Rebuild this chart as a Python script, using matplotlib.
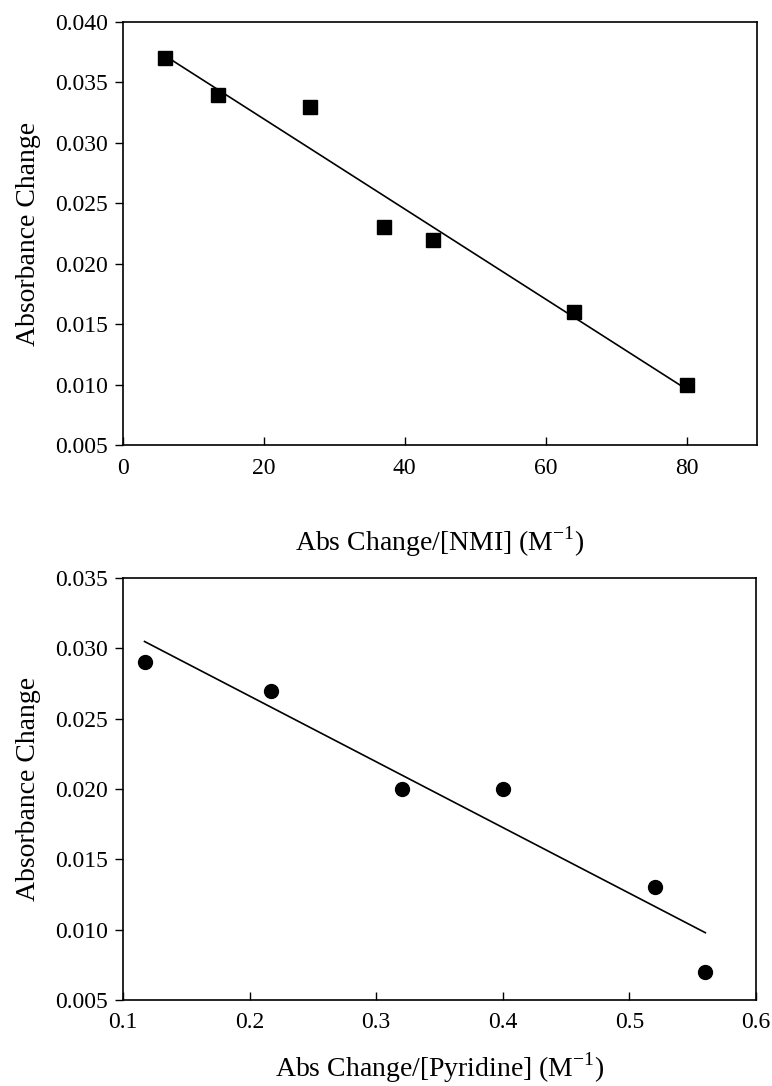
import numpy as np
import matplotlib
matplotlib.use("Agg")
import matplotlib.pyplot as plt

plt.rcParams['font.family'] = ['Liberation Serif', 'DejaVu Serif']
plt.rcParams['mathtext.fontset'] = 'custom'
plt.rcParams['mathtext.rm'] = 'Liberation Serif'

# NMI titration
nmi_x = [6.0, 13.5, 26.5, 37.0, 44.0, 64.0, 80.0]
nmi_y = [0.037, 0.034, 0.033, 0.023, 0.022, 0.016, 0.010]

# Pyridine titration
pyr_x = [0.117, 0.217, 0.320, 0.400, 0.520, 0.560]
pyr_y = [0.029, 0.027, 0.020, 0.020, 0.013, 0.007]

fig = plt.figure(figsize=(7.72, 10.86), dpi=100)
ax1 = fig.add_axes([123/772, 1 - 445/1086, (757-123)/772, (445-22)/1086])
ax2 = fig.add_axes([123/772, 1 - 1000/1086, (756-123)/772, (1000-578)/1086])


def panel(ax, x, y, marker, ms, xlim, ylim, xticks, yticks, xfmt, xlabel, xpad):
    x = np.array(x)
    y = np.array(y)
    # least-squares line over the measured range
    slope, icpt = np.polyfit(x, y, 1)
    xx = np.array([x.min(), x.max()])
    ax.plot(xx, slope * xx + icpt, color='black', lw=1.2, zorder=2)
    ax.plot(x, y, linestyle='none', marker=marker, ms=ms, color='black', zorder=3)
    ax.set_xlim(*xlim)
    ax.set_ylim(*ylim)
    ax.set_xticks(xticks)
    ax.set_yticks(yticks)
    ax.set_xticklabels([xfmt.format(t) for t in xticks])
    ax.set_yticklabels(['{:.3f}'.format(t) for t in yticks])
    ax.tick_params(axis='x', direction='in', length=6, width=1, labelsize=17, pad=9)
    ax.tick_params(axis='y', direction='out', length=6, width=1, labelsize=17, pad=5)
    for s in ax.spines.values():
        s.set_linewidth(1.2)
    ax.set_xlabel(xlabel, fontsize=20, labelpad=xpad)
    ax.set_ylabel('Absorbance Change', fontsize=20, labelpad=10)


panel(ax1, nmi_x, nmi_y, 's', 10, (0, 90), (0.005, 0.040),
      [0, 20, 40, 60, 80], np.arange(0.005, 0.0401, 0.005), '{:.0f}',
      r'Abs Change/[NMI] (M$^{\mathregular{-1}}$)', 33)
panel(ax2, pyr_x, pyr_y, 'o', 10, (0.1, 0.6), (0.005, 0.035),
      [0.1, 0.2, 0.3, 0.4, 0.5, 0.6], np.arange(0.005, 0.0351, 0.005), '{:.1f}',
      r'Abs Change/[Pyridine] (M$^{\mathregular{-1}}$)', 12)

fig.savefig('out.png', dpi=100)
